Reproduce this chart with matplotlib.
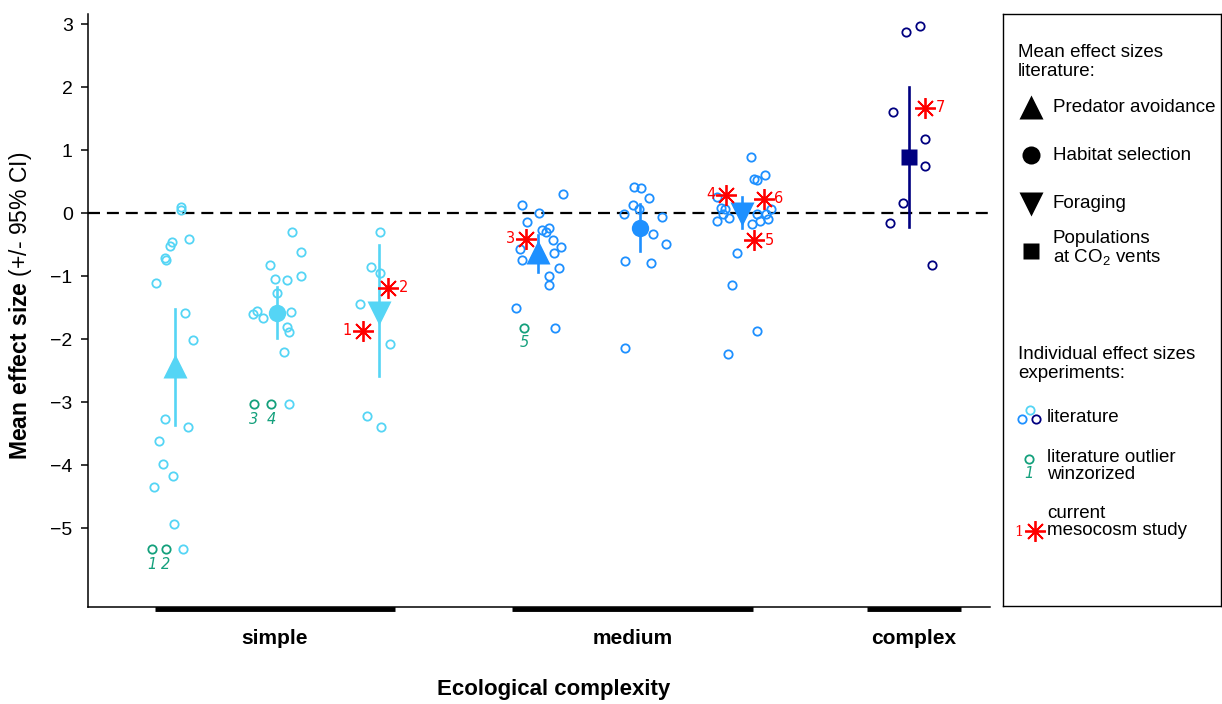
import matplotlib
matplotlib.use("Agg")
import matplotlib.pyplot as plt

plt.rcParams["font.family"] = ["Liberation Sans", "DejaVu Sans"]
plt.rcParams["mathtext.fontset"] = "custom"
plt.rcParams["mathtext.rm"] = "Liberation Sans"
plt.rcParams["mathtext.bf"] = "Liberation Sans:bold"

# ---- data ----
categories = ["simple", "medium", "complex"]
behaviours = ["Predator avoidance", "Habitat selection", "Foraging", "Populations at CO2 vents"]

# mean effect size with 95% CI (upper, lower) per group
group_names = ["simple_pred", "simple_hab", "simple_for",
               "medium_pred", "medium_hab", "medium_for", "complex_pop"]
group_means = [-2.43, -1.58, -1.58, -0.62, -0.23, -0.02, 0.89]
group_ci_hi = [-1.52, -1.17, -0.51, -0.35, 0.14, 0.25, 2.00]
group_ci_lo = [-3.37, -1.98, -2.58, -0.93, -0.60, -0.24, -0.22]

# individual literature effect sizes
simple_pred = [0.10, 0.05, -0.41, -0.46, -0.53, -0.72, -0.74, -1.11, -1.58, -2.02,
               -3.27, -3.39, -3.62, -3.98, -4.17, -4.35, -4.93, -5.33]
simple_hab = [-0.30, -0.62, -0.83, -1.00, -1.04, -1.07, -1.27, -1.55, -1.60, -1.66,
              -1.57, -1.81, -1.89, -2.21, -3.03]
simple_for = [-0.30, -0.85, -0.96, -1.45, -2.08, -3.23, -3.39]
medium_pred = [0.30, 0.12, 0.00, -0.14, -0.27, -0.24, -0.30, -0.43, -0.57, -0.54,
               -0.63, -0.74, -0.87, -1.00, -1.15, -1.51, -1.82]
medium_hab = [0.41, 0.39, 0.24, 0.13, 0.06, -0.02, -0.06, -0.33, -0.49, -0.76, -0.80, -2.14]
medium_for = [0.89, 0.61, 0.54, 0.52, 0.26, 0.08, 0.06, 0.07, -0.01, -0.01, -0.01,
              -0.08, -0.09, -0.13, -0.13, -0.17, -0.63, -1.14, -1.87, -2.24]
complex_pop = [2.97, 2.87, 1.60, 1.18, 0.75, 0.16, -0.16, -0.82]

# horizontal jitter of the individual points (same order as above)
simple_pred_jit = [0.06, 0.06, 0.14, -0.03, -0.05, -0.10, -0.09, -0.19, 0.10, 0.18,
                   -0.10, 0.13, -0.16, -0.12, -0.02, -0.21, -0.01, 0.08]
simple_hab_jit = [0.15, 0.24, -0.07, 0.24, -0.02, 0.10, 0.0, -0.20, -0.24, -0.14,
                  0.14, 0.10, 0.12, 0.07, 0.12]
simple_for_jit = [0.01, -0.08, 0.01, -0.19, 0.11, -0.12, 0.02]
medium_pred_jit = [0.24, -0.16, 0.01, -0.11, 0.04, 0.11, 0.08, 0.15, -0.18, 0.22,
                   0.16, -0.16, 0.20, 0.11, 0.11, -0.22, 0.17]
medium_hab_jit = [-0.06, 0.01, 0.09, -0.07, -0.01, -0.16, 0.21, 0.13, 0.25, -0.15, 0.11, -0.15]
medium_for_jit = [0.09, 0.22, 0.12, 0.15, -0.25, -0.21, -0.17, 0.28, -0.19, 0.15, 0.23,
                  -0.13, 0.25, -0.25, 0.18, 0.10, -0.05, -0.10, 0.15, -0.14]
complex_pop_jit = [0.10, -0.03, -0.16, 0.15, 0.15, -0.06, -0.19, 0.22]

# winsorized outliers: group index, value, jitter, label
outlier_group = [0, 0, 1, 1, 3]
outlier_vals = [-5.33, -5.33, -3.03, -3.03, -1.82]
outlier_jit = [-0.23, -0.09, -0.23, -0.06, -0.14]
outlier_labels = ["1", "2", "3", "4", "5"]

# current mesocosm study
meso_group = [2, 2, 3, 5, 5, 5, 6]
meso_vals = [-1.87, -1.19, -0.41, 0.29, -0.43, 0.23, 1.67]
meso_jit = [-0.16, 0.09, -0.12, -0.16, 0.12, 0.21, 0.15]
meso_labels = ["1", "2", "3", "4", "5", "6", "7"]
meso_label_side = [-1, 1, -1, -1, 1, 1, 1]

# ---- layout / style ----
positions = [1.0, 2.0, 3.0, 4.56, 5.56, 6.56, 8.20]
cat_spans = [(0.80, 3.16), (4.30, 6.67), (7.78, 8.71)]
c_simple, c_medium, c_complex = "#55d5f5", "#1e90ff", "#000080"
c_green = "#14a07c"
group_colors = [c_simple] * 3 + [c_medium] * 3 + [c_complex]
group_markers = ["^", "o", "v", "^", "o", "v", "s"]
group_msize = [17, 12.5, 17, 17, 12.5, 17, 11]
star = (8, 2, 0)

points = [simple_pred, simple_hab, simple_for, medium_pred, medium_hab, medium_for, complex_pop]
jitters = [simple_pred_jit, simple_hab_jit, simple_for_jit, medium_pred_jit,
           medium_hab_jit, medium_for_jit, complex_pop_jit]

W, H = 1222, 704
fig = plt.figure(figsize=(W / 100, H / 100), dpi=100)
ax = fig.add_axes([88 / W, (H - 607) / H, (990 - 88) / W, (607 - 14) / H])

ymin, ymax = -6.254, 3.159
ax.set_ylim(ymin, ymax)
ax.set_xlim(0.147, 8.99)

ax.axhline(0, color="black", lw=1.6, dashes=(5.4, 3.1), zorder=1)

for i, (vals, jit) in enumerate(zip(points, jitters)):
    xs = [positions[i] + j for j in jit]
    ax.plot(xs, vals, "o", mfc="none", mec=group_colors[i], ms=6, mew=1.3,
            linestyle="none", zorder=2)

for g, v, j, lab in zip(outlier_group, outlier_vals, outlier_jit, outlier_labels):
    x = positions[g] + j
    ax.plot(x, v, "o", mfc="none", mec=c_green, ms=6, mew=1.3, zorder=2)
    ax.annotate(lab, (x, v), xytext=(0, -11), textcoords="offset points",
                ha="center", va="center", color=c_green, fontsize=10.5,
                style="italic", family="DejaVu Sans")

for i in range(len(group_means)):
    ax.plot([positions[i], positions[i]], [group_ci_lo[i], group_ci_hi[i]],
            color=group_colors[i], lw=1.9, zorder=3)
    ax.plot(positions[i], group_means[i], group_markers[i], color=group_colors[i],
            ms=group_msize[i], mec="none", zorder=4)

for g, v, j, lab, side in zip(meso_group, meso_vals, meso_jit, meso_labels, meso_label_side):
    x = positions[g] + j
    ax.plot(x, v, marker=star, color="red", ms=15, mew=1.3, linestyle="none", zorder=5)
    ax.annotate(lab, (x, v), xytext=(side * 11, 0), textcoords="offset points",
                ha="center", va="center", color="red", fontsize=10.5,
                family="DejaVu Sans")

# axes styling
for s in ["top", "right"]:
    ax.spines[s].set_visible(False)
ax.spines["left"].set_linewidth(1.1)
ax.spines["bottom"].set_linewidth(1.1)
ax.set_yticks(range(-5, 4))
ax.set_yticklabels([str(t).replace("-", "\u2212") for t in range(-5, 4)], fontsize=14)
ax.tick_params(axis="y", length=5, width=1.1, pad=6)
ax.set_xticks([])

for (a, b), name in zip(cat_spans, categories):
    ax.plot([a, b], [ymin - 0.035, ymin - 0.035], color="black", lw=3.5,
            solid_capstyle="butt", clip_on=False)
    ax.text((a + b) / 2, ymin - 0.5, name, ha="center", va="center",
            fontsize=15, fontweight="bold")

fig.text(554 / W, 1 - 690 / H, "Ecological complexity", ha="center", va="center",
         fontsize=16, fontweight="bold")
fig.text(21 / W, 1 - 306 / H, r"$\bf{Mean\ effect\ size}$ (+/- 95% CI)",
         rotation=90, ha="center", va="center", fontsize=16.5)

# ---- legend panel ----
lg = fig.add_axes([1003 / W, (H - 606) / H, (1221 - 1003) / W, (606 - 14) / H])
lg.set_xlim(1003, 1221)
lg.set_ylim(606, 14)
lg.set_xticks([])
lg.set_yticks([])
for s in lg.spines.values():
    s.set_linewidth(1.0)

fs = 13.5
lg.text(1018, 62, "Mean effect sizes\nliterature:", ha="left", va="center",
        fontsize=fs, linespacing=1.1)
leg_y = [107, 155, 204, 251]
leg_text = ["Predator avoidance", "Habitat selection", "Foraging",
            "Populations\nat CO$_2$ vents"]
for y, m, ms, t in zip(leg_y, group_markers[3:] + ["s"], [17, 13, 17, 12], leg_text):
    lg.plot(1031, y, m, color="black", ms=ms, mec="none")
    lg.text(1053, y - (2 if "\n" in t else 0), t, ha="left", va="center",
            fontsize=fs, linespacing=1.05)

lg.text(1018, 364, "Individual effect sizes\nexperiments:", ha="left", va="center",
        fontsize=fs, linespacing=1.1)
for (x, y), c in zip([(1030, 410), (1022, 419), (1036, 419)], [c_simple, c_medium, c_complex]):
    lg.plot(x, y, "o", mfc="none", mec=c, ms=6, mew=1.3)
lg.text(1047, 417, "literature", ha="left", va="center", fontsize=fs)

lg.plot(1029, 459, "o", mfc="none", mec=c_green, ms=6, mew=1.3)
lg.text(1029, 474, "1", ha="center", va="center", color=c_green, fontsize=10.5,
        style="italic", family="DejaVu Sans")
lg.text(1047, 466, "literature outlier\nwinzorized", ha="left", va="center",
        fontsize=fs, linespacing=1.05)

lg.plot(1035, 531, marker=star, color="red", ms=15, mew=1.3)
lg.text(1019, 532, "1", ha="center", va="center", color="red", fontsize=10.5,
        family="DejaVu Serif")
lg.text(1047, 522, "current\nmesocosm study", ha="left", va="center",
        fontsize=fs, linespacing=1.05)

fig.savefig("out.png", dpi=100)
